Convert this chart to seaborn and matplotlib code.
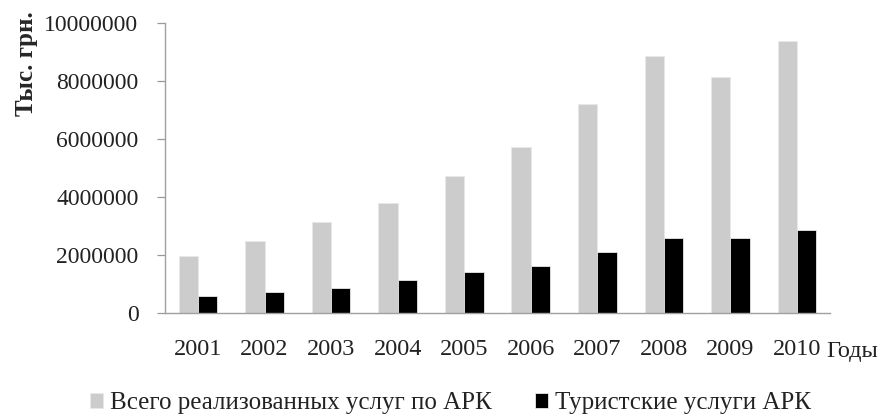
import numpy as np
import pandas as pd
import seaborn as sns
import matplotlib.pyplot as plt

# Values (тыс. грн.)
years = ["2001", "2002", "2003", "2004", "2005", "2006", "2007", "2008", "2009", "2010"]
total_services = [1950000, 2490000, 3130000, 3790000, 4710000, 5730000, 7190000, 8850000, 8140000, 9380000]
tourist_services = [595000, 720000, 870000, 1150000, 1420000, 1620000, 2100000, 2570000, 2570000, 2860000]
series_names = ["Всего реализованных услуг по АРК", "Туристские услуги АРК"]
y_ticks = [0, 2000000, 4000000, 6000000, 8000000, 10000000]

df = pd.DataFrame({
    "year": years * 2,
    "value": total_services + tourist_services,
    "series": [series_names[0]] * len(years) + [series_names[1]] * len(years),
})

sns.set_style("white")
plt.rcParams["font.family"] = ["Liberation Serif", "DejaVu Serif"]

fig = plt.figure(figsize=(8.86, 4.19), dpi=100)
ax = fig.add_axes([0.186, 0.253, 0.751, 0.693])

sns.barplot(data=df, x="year", y="value", hue="series", order=years,
            hue_order=series_names, palette=["#cccccc", "#000000"],
            width=0.58, edgecolor="#e8e8e8", linewidth=0.6, ax=ax, legend=True)

ax.set_ylim(0, 10000000)
ax.set_xlim(-0.5, len(years) - 0.5)
ax.set_yticks(y_ticks)
ax.set_yticklabels([str(v) for v in y_ticks], fontsize=17, color="#222222")
ax.set_xticks(range(len(years)))
ax.set_xticklabels(years, fontsize=17.5, color="#222222")
# category separators as minor ticks
ax.set_xticks(np.arange(-0.5, len(years)), minor=True)
ax.tick_params(axis="x", which="major", length=0, pad=19)
ax.tick_params(axis="x", which="minor", length=7, width=0.9, color="#999999", direction="out")
ax.tick_params(axis="y", which="major", left=True, length=6, width=0.9, color="#999999",
               direction="out", pad=13)

for side in ["top", "right"]:
    ax.spines[side].set_visible(False)
for side in ["left", "bottom"]:
    ax.spines[side].set_color("#a0a0a0")
    ax.spines[side].set_linewidth(1.0)

ax.set_xlabel("")
ax.set_ylabel("")
fig.text(0.017, 0.972, "Тыс. грн.", rotation=90, fontsize=18, fontweight="bold",
         ha="left", va="top")
fig.text(0.933, 0.161, "Годы", fontsize=17.5, ha="left", va="center", color="#222222")

handles, labels = ax.get_legend_handles_labels()
ax.get_legend().remove()
fig.legend(handles, labels, loc="center", bbox_to_anchor=(0.5085, 0.038), ncol=2,
           frameon=False, fontsize=18, handlelength=0.52, handleheight=0.52,
           handletextpad=0.28, columnspacing=1.7, labelcolor="#222222")

fig.savefig("out.png", dpi=100)
